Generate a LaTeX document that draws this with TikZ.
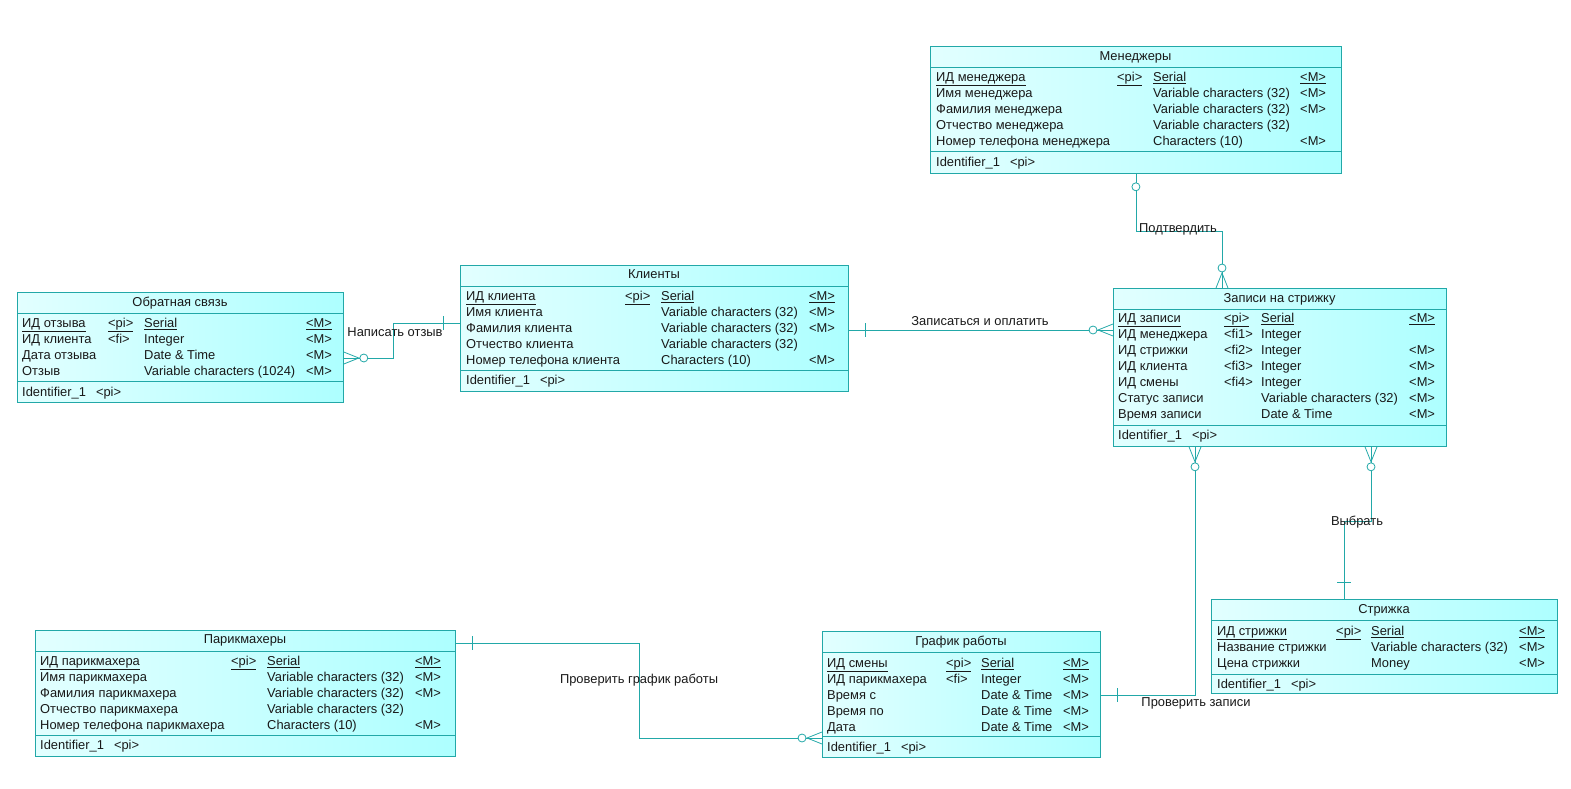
\documentclass[tikz,border=0pt]{standalone}
\usepackage{fontspec}
\setmainfont{Liberation Sans}
\usetikzlibrary{positioning}

\definecolor{erline}{HTML}{22A8A8}
\definecolor{entleft}{HTML}{E2FFFF}
\definecolor{entright}{HTML}{ADFFFF}
\newcommand\erfont{\fontsize{12.9}{15}\selectfont}

\begin{document}
\begin{tikzpicture}[x=1pt,y=-1pt,
 ent/.style={draw=erline,line width=0.8pt,left color=entleft,right color=entright,anchor=north west,inner sep=0pt},
 sep/.style={draw=erline,line width=0.8pt},
 enttitle/.style={font=\erfont,text=black!90,inner sep=0pt,anchor=base},
 fld/.style={font=\erfont,text=black!90,inner sep=0pt,anchor=base west},
 rel/.style={draw=erline,line width=0.8pt},
 lbl/.style={font=\erfont,text=black!90,inner sep=0pt},
 pics/many/.style={code={\draw[rel] (0,-6) -- (15,0) -- (0,6); \draw[rel,fill=white] (20,0) circle (4);}},
 pics/one/.style={code={\draw[rel] (17,-7) -- (17,7);}},
 pics/zero/.style={code={\draw[rel,fill=white] (13,0) circle (4);}}]
 \useasboundingbox (0,0) rectangle (1571,789);

 % Менеджеры
 \node[ent,minimum width=411,minimum height=127] (man) at (930,46) {};
 \node[enttitle] (man-title) at (1135.5,60.5) {Менеджеры};
 \draw[sep] (930,67) -- (1341,67) (930,151) -- (1341,151);
 \foreach \n/\k/\t/\m [count=\i] in {{\underline{ИД менеджера}}/{\underline{<pi>}}/{\underline{Serial}}/{\underline{<M>}},
   Имя менеджера//Variable characters (32)/<M>,
   Фамилия менеджера//Variable characters (32)/<M>,
   Отчество менеджера//Variable characters (32)/,
   Номер телефона менеджера//Characters (10)/<M>}
 { \node[fld] (man-n\i) at (936,{81.5+16*(\i-1)}) {\n};
   \node[fld] (man-k\i) at (1117,{81.5+16*(\i-1)}) {\k};
   \node[fld] (man-t\i) at (1153,{81.5+16*(\i-1)}) {\t};
   \node[fld] (man-m\i) at (1300,{81.5+16*(\i-1)}) {\m}; }
 \node[fld] (man-id) at (936,166.5) {Identifier\_1\hspace{10pt}<pi>};

 % Обратная связь
 \node[ent,minimum width=326,minimum height=110] (obr) at (17,292) {};
 \node[enttitle] (obr-title) at (180,306.5) {Обратная связь};
 \draw[sep] (17,313) -- (343,313) (17,381) -- (343,381);
 \foreach \n/\k/\t/\m [count=\i] in {{\underline{ИД отзыва}}/{\underline{<pi>}}/{\underline{Serial}}/{\underline{<M>}},
   ИД клиента/<fi>/Integer/<M>,
   Дата отзыва//Date \& Time/<M>,
   Отзыв//Variable characters (1024)/<M>}
 { \node[fld] (obr-n\i) at (22,{327.5+16*(\i-1)}) {\n};
   \node[fld] (obr-k\i) at (108,{327.5+16*(\i-1)}) {\k};
   \node[fld] (obr-t\i) at (144,{327.5+16*(\i-1)}) {\t};
   \node[fld] (obr-m\i) at (306,{327.5+16*(\i-1)}) {\m}; }
 \node[fld] (obr-id) at (22,396.5) {Identifier\_1\hspace{10pt}<pi>};

 % Клиенты
 \node[ent,minimum width=388,minimum height=126] (kli) at (460,265) {};
 \node[enttitle] (kli-title) at (654,278.5) {Клиенты};
 \draw[sep] (460,286) -- (848,286) (460,370) -- (848,370);
 \foreach \n/\k/\t/\m [count=\i] in {{\underline{ИД клиента}}/{\underline{<pi>}}/{\underline{Serial}}/{\underline{<M>}},
   Имя клиента//Variable characters (32)/<M>,
   Фамилия клиента//Variable characters (32)/<M>,
   Отчество клиента//Variable characters (32)/,
   Номер телефона клиента//Characters (10)/<M>}
 { \node[fld] (kli-n\i) at (466,{300.5+15.9*(\i-1)}) {\n};
   \node[fld] (kli-k\i) at (625,{300.5+15.9*(\i-1)}) {\k};
   \node[fld] (kli-t\i) at (661,{300.5+15.9*(\i-1)}) {\t};
   \node[fld] (kli-m\i) at (809,{300.5+15.9*(\i-1)}) {\m}; }
 \node[fld] (kli-id) at (466,384.5) {Identifier\_1\hspace{10pt}<pi>};

 % Записи на стрижку
 \node[ent,minimum width=333,minimum height=158] (zap) at (1113,288) {};
 \node[enttitle] (zap-title) at (1279.5,302.5) {Записи на стрижку};
 \draw[sep] (1113,309) -- (1446,309) (1113,425) -- (1446,425);
 \foreach \n/\k/\t/\m [count=\i] in {{\underline{ИД записи}}/{\underline{<pi>}}/{\underline{Serial}}/{\underline{<M>}},
   ИД менеджера/<fi1>/Integer/,
   ИД стрижки/<fi2>/Integer/<M>,
   ИД клиента/<fi3>/Integer/<M>,
   ИД смены/<fi4>/Integer/<M>,
   Статус записи//Variable characters (32)/<M>,
   Время записи//Date \& Time/<M>}
 { \node[fld] (zap-n\i) at (1118,{322.5+16*(\i-1)}) {\n};
   \node[fld] (zap-k\i) at (1224,{322.5+16*(\i-1)}) {\k};
   \node[fld] (zap-t\i) at (1261,{322.5+16*(\i-1)}) {\t};
   \node[fld] (zap-m\i) at (1409,{322.5+16*(\i-1)}) {\m}; }
 \node[fld] (zap-id) at (1118,439.5) {Identifier\_1\hspace{10pt}<pi>};

 % Стрижка
 \node[ent,minimum width=346,minimum height=94] (str) at (1211,599) {};
 \node[enttitle] (str-title) at (1384,613.5) {Стрижка};
 \draw[sep] (1211,620) -- (1557,620) (1211,674) -- (1557,674);
 \foreach \n/\k/\t/\m [count=\i] in {{\underline{ИД стрижки}}/{\underline{<pi>}}/{\underline{Serial}}/{\underline{<M>}},
   Название стрижки//Variable characters (32)/<M>,
   Цена стрижки//Money/<M>}
 { \node[fld] (str-n\i) at (1217,{635.5+16*(\i-1)}) {\n};
   \node[fld] (str-k\i) at (1336,{635.5+16*(\i-1)}) {\k};
   \node[fld] (str-t\i) at (1371,{635.5+16*(\i-1)}) {\t};
   \node[fld] (str-m\i) at (1519,{635.5+16*(\i-1)}) {\m}; }
 \node[fld] (str-id) at (1217,688.5) {Identifier\_1\hspace{10pt}<pi>};

 % Парикмахеры
 \node[ent,minimum width=420,minimum height=126] (par) at (35,630) {};
 \node[enttitle] (par-title) at (245,643.5) {Парикмахеры};
 \draw[sep] (35,651) -- (455,651) (35,735) -- (455,735);
 \foreach \n/\k/\t/\m [count=\i] in {{\underline{ИД парикмахера}}/{\underline{<pi>}}/{\underline{Serial}}/{\underline{<M>}},
   Имя парикмахера//Variable characters (32)/<M>,
   Фамилия парикмахера//Variable characters (32)/<M>,
   Отчество парикмахера//Variable characters (32)/,
   Номер телефона парикмахера//Characters (10)/<M>}
 { \node[fld] (par-n\i) at (40,{665.5+15.9*(\i-1)}) {\n};
   \node[fld] (par-k\i) at (231,{665.5+15.9*(\i-1)}) {\k};
   \node[fld] (par-t\i) at (267,{665.5+15.9*(\i-1)}) {\t};
   \node[fld] (par-m\i) at (415,{665.5+15.9*(\i-1)}) {\m}; }
 \node[fld] (par-id) at (40,749.5) {Identifier\_1\hspace{10pt}<pi>};

 % График работы
 \node[ent,minimum width=278,minimum height=126] (graf) at (822,631) {};
 \node[enttitle] (graf-title) at (961,645.5) {График работы};
 \draw[sep] (822,652) -- (1100,652) (822,736) -- (1100,736);
 \foreach \n/\k/\t/\m [count=\i] in {{\underline{ИД смены}}/{\underline{<pi>}}/{\underline{Serial}}/{\underline{<M>}},
   ИД парикмахера/<fi>/Integer/<M>,
   Время с//Date \& Time/<M>,
   Время по//Date \& Time/<M>,
   Дата//Date \& Time/<M>}
 { \node[fld] (graf-n\i) at (827,{667.5+15.9*(\i-1)}) {\n};
   \node[fld] (graf-k\i) at (946,{667.5+15.9*(\i-1)}) {\k};
   \node[fld] (graf-t\i) at (981,{667.5+15.9*(\i-1)}) {\t};
   \node[fld] (graf-m\i) at (1063,{667.5+15.9*(\i-1)}) {\m}; }
 \node[fld] (graf-id) at (827,751.5) {Identifier\_1\hspace{10pt}<pi>};

 % связи
 \coordinate (p1) at (1222,231);
 \draw[rel] (man.south) |- (p1) -- (p1 |- zap.north);
 \node[lbl] (l-podt) at (1178,229) {Подтвердить};

 \coordinate (p2) at (393,358);
 \coordinate (p3) at (393,323);
 \draw[rel] (obr.east |- p2) -- (p2) -- (p3) -- (p3 -| kli.west);
 \node[lbl] (l-otz) at (395,332) {Написать отзыв};

 \coordinate (p4) at (0,330);
 \draw[rel] (kli.east |- p4) -- (zap.west |- p4);
 \node[lbl] (l-opl) at (980,321) {Записаться и оплатить};

 \coordinate (p5) at (1195,695);
 \draw[rel] (p5 |- zap.south) -- (p5) -- (graf.east |- p5);
 \node[lbl] (l-zap) at (1196,703) {Проверить записи};

 \coordinate (p6) at (1371,521);
 \coordinate (p7) at (1344,521);
 \draw[rel] (p6 |- zap.south) -- (p6) -- (p7) -- (p7 |- str.north);
 \node[lbl] (l-vyb) at (1357,522) {Выбрать};

 \coordinate (p8) at (639,643);
 \coordinate (p9) at (639,738);
 \draw[rel] (par.east |- p8) -- (p8) -- (p9) -- (graf.west |- p9);
 \node[lbl] (l-graf) at (639,680) {Проверить график работы};

 % концы связей
 \pic[rotate=-90] at (man.south) {zero};
 \pic[rotate=90] at (p1 |- zap.north) {many};
 \pic at (obr.east |- p2) {many};
 \pic[rotate=180] at (p3 -| kli.west) {one};
 \pic at (kli.east |- p4) {one};
 \pic[rotate=180] at (zap.west |- p4) {many};
 \pic[rotate=-90] at (p5 |- zap.south) {many};
 \pic at (graf.east |- p5) {one};
 \pic[rotate=-90] at (p6 |- zap.south) {many};
 \pic[rotate=90] at (p7 |- str.north) {one};
 \pic at (par.east |- p8) {one};
 \pic[rotate=180] at (graf.west |- p9) {many};
\end{tikzpicture}
\end{document}
